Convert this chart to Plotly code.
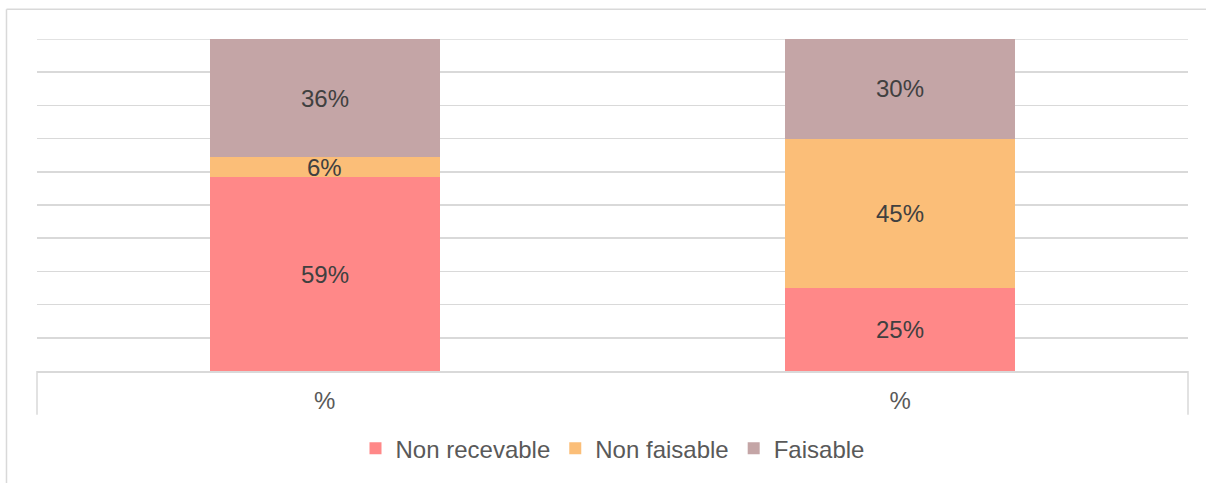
import plotly.graph_objects as go

categories = ["%", "%"]
series_names = ["Non recevable", "Non faisable", "Faisable"]
non_recevable = [59, 25]
non_faisable = [6, 45]
faisable = [36, 30]
colors = ["#FF8888", "#FBBE78", "#C4A5A6"]

series = [non_recevable, non_faisable, faisable]
xpos = list(range(len(categories)))
totals = [sum(s[i] for s in series) for i in xpos]

FONT = "Liberation Sans, Arial"
fig = go.Figure()
annotations = []
base = [0.0 for _ in xpos]
for name, vals, col in zip(series_names, series, colors):
    norm = [v / t * 100 for v, t in zip(vals, totals)]
    fig.add_trace(go.Bar(
        x=xpos, y=norm, name=name, marker=dict(color=col, line=dict(width=0)),
        width=0.4, hoverinfo="skip",
    ))
    for i in xpos:
        annotations.append(dict(
            x=xpos[i], y=base[i] + norm[i] / 2, xref="x", yref="y",
            text=f"{vals[i]}%", showarrow=False,
            font=dict(family=FONT, size=24, color="#404040"),
        ))
        base[i] += norm[i]

line_col = "#D9D9D9"
shapes = [
    # outer chart border (left and top)
    dict(type="line", xref="paper", yref="paper", x0=-0.0265, x1=-0.0265, y0=1.0898, y1=-0.4,
         line=dict(color=line_col, width=1.5)),
    dict(type="line", xref="paper", yref="paper", x0=-0.0265, x1=1.05, y0=1.0898, y1=1.0898,
         line=dict(color=line_col, width=1.5)),
    # category axis outer separators
    dict(type="line", xref="paper", yref="paper", x0=0, x1=0, y0=0, y1=-0.1317,
         line=dict(color=line_col, width=1.5)),
    dict(type="line", xref="paper", yref="paper", x0=1, x1=1, y0=0, y1=-0.1317,
         line=dict(color=line_col, width=1.5)),
    # top (100%) gridline
    dict(type="line", xref="paper", yref="y", x0=0, x1=1, y0=100, y1=100, layer="below",
         line=dict(color=line_col, width=1.5)),
]

fig.update_layout(
    barmode="stack",
    width=1206, height=483,
    margin=dict(l=37, r=18, t=39, b=110),
    paper_bgcolor="white", plot_bgcolor="white",
    font=dict(family=FONT, size=24, color="#595959"),
    showlegend=True,
    legend=dict(orientation="h", x=0.5, xanchor="center", y=-0.234, yanchor="middle",
                font=dict(size=24, color="#595959"), traceorder="normal",
                itemclick=False, itemwidth=30),
    annotations=annotations,
    shapes=shapes,
    xaxis=dict(
        range=[-0.5, len(categories) - 0.5], tickvals=xpos, ticktext=categories,
        showgrid=False, zeroline=False, showline=True, linecolor=line_col, linewidth=1.5,
        ticks="outside", ticklen=8, tickcolor="rgba(0,0,0,0)",
        tickfont=dict(size=24, color="#595959"), fixedrange=True,
    ),
    yaxis=dict(
        range=[0, 100], tick0=0, dtick=10, showticklabels=False, showgrid=True,
        gridcolor=line_col, gridwidth=1.5, zeroline=False, showline=False, fixedrange=True,
    ),
)

fig.write_html(
    "out.html",
    config={"displayModeBar": False, "staticPlot": True},
    post_script="document.body.style.margin='0';document.body.style.overflow='hidden';",
)
